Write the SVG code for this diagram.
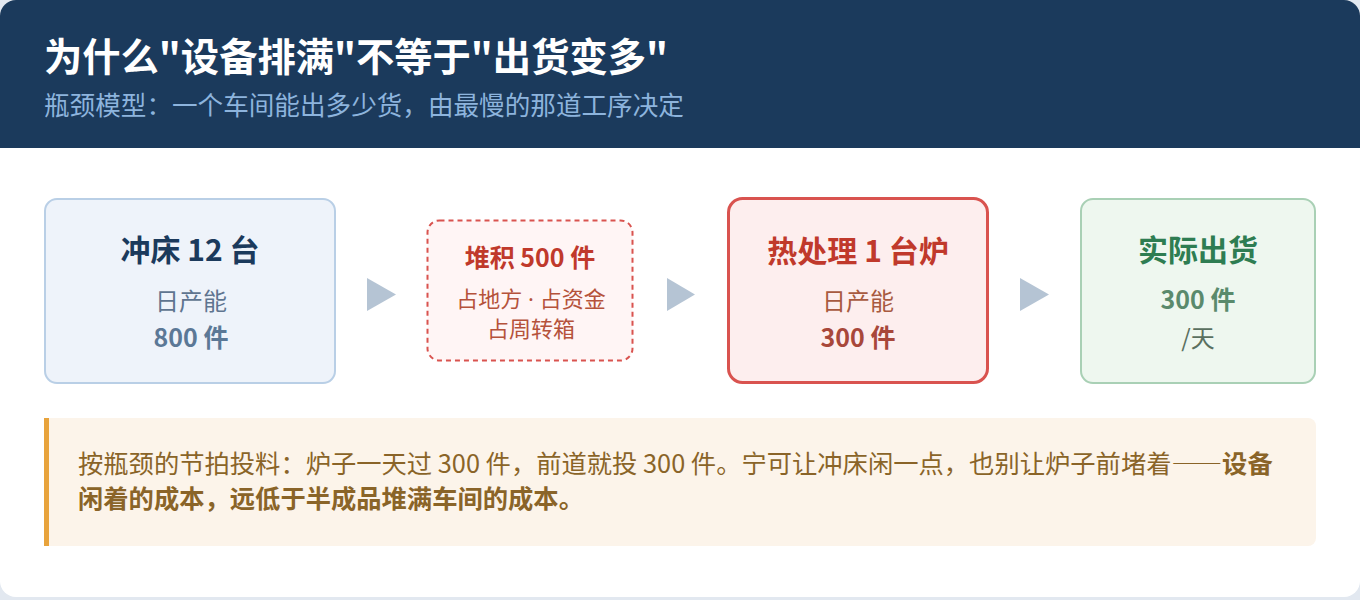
<svg xmlns="http://www.w3.org/2000/svg" width="1360" height="600" viewBox="0 0 1360 600">
<style>
text{font-family:"Noto Sans CJK SC","Noto Sans",sans-serif}
.c{text-anchor:middle}
.b{font-weight:700}
.ttl{font-size:30px;font-weight:700}
.sub{font-size:24px}
.val{font-size:25px;font-weight:700}
.arrow{fill:#b5c4d4}
.note{font-size:25.3px;fill:#8a6428}
.fw{font-feature-settings:"fwid" 1}
.dot{font-family:"Noto Sans",sans-serif}
</style>
<rect x="0" y="0" width="1360" height="600" fill="#e2e8f0"/>
<rect x="0" y="0" width="1360" height="597" rx="16" fill="#ffffff"/>
<g id="header">
<path d="M0,148 V16 A16,16 0 0 1 16,0 H1344 A16,16 0 0 1 1360,16 V148 Z" fill="#1b3a5c"/>
<text x="44" y="71" font-size="39" font-weight="700" fill="#ffffff" textLength="624" lengthAdjust="spacingAndGlyphs">为什么"设备排满"不等于"出货变多"</text>
<text x="44" y="115" font-size="25.6" fill="#8db4dd">瓶颈模型：一个车间能出多少货，由最慢的那道工序决定</text>
</g>
<g id="connectors">
<polygon class="arrow" points="367,278 396,294.5 367,311"/>
<polygon class="arrow" points="667,278 695,294.5 667,311"/>
<polygon class="arrow" points="1020,278 1049,294.5 1020,311"/>
</g>
<g id="node-press">
<rect x="45" y="199" width="290" height="184" rx="12" fill="#eef3fa" stroke="#b9cfe6" stroke-width="2"/>
<text class="c ttl" x="190" y="261" font-size="31" fill="#1b3a5c">冲床 12 台</text>
<text class="c sub" x="191" y="310" fill="#5f7590">日产能</text>
<text class="c val" x="191" y="347" fill="#5b7896">800 件</text>
</g>
<g id="node-wip">
<rect x="427.5" y="220.5" width="205" height="140" rx="12" fill="#fff5f5" stroke="#d9534f" stroke-width="2" stroke-dasharray="5,4"/>
<text class="c b" x="530" y="267" font-size="25" fill="#c0392b">堆积 500 件</text>
<text class="c" x="531" y="307" font-size="22" fill="#b5523b">占地方<tspan class="dot"> · </tspan>占资金</text>
<text class="c" x="531" y="337" font-size="22" fill="#b5523b">占周转箱</text>
</g>
<g id="node-heat">
<rect x="728.5" y="198.5" width="259" height="184" rx="14" fill="#fdeeee" stroke="#d9534f" stroke-width="3"/>
<text class="c ttl" x="858" y="262" fill="#c0392b">热处理 1 台炉</text>
<text class="c sub" x="858" y="310" fill="#a85a40">日产能</text>
<text class="c val" x="858" y="347" fill="#a8473a">300 件</text>
</g>
<g id="node-ship">
<rect x="1081" y="199" width="234" height="184" rx="12" fill="#eef7ef" stroke="#a9d0b5" stroke-width="2"/>
<text class="c ttl" x="1198" y="261" fill="#2e7d52">实际出货</text>
<text class="c val" x="1198" y="309" fill="#5a8a6c">300 件</text>
<text class="c sub" x="1198" y="347" fill="#5a7060">/天</text>
</g>
<g id="note">
<path d="M44,418 H1308 A8,8 0 0 1 1316,426 V538 A8,8 0 0 1 1308,546 H44 Z" fill="#fcf4ea"/>
<rect x="44" y="418" width="5" height="128" fill="#e8a33c"/>
<text class="note" x="78" y="473">按瓶颈的节拍投料：炉子一天过 300 件，前道就投 300 件。宁可让冲床闲一点，也别让炉子前堵着<tspan class="fw">——</tspan><tspan class="b">设备</tspan></text>
<text class="note b" x="78" y="508">闲着的成本，远低于半成品堆满车间的成本。</text>
</g>
</svg>
